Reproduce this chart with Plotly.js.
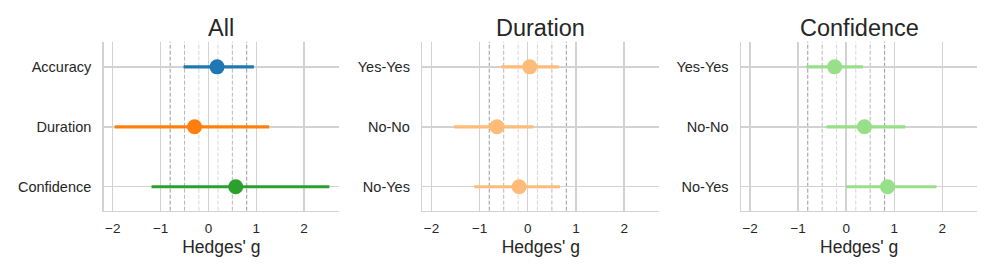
<!DOCTYPE html>
<html>
<head>
<meta charset="utf-8">
<script src="https://cdn.plot.ly/plotly-3.0.1.min.js"></script>
<style>html,body{margin:0;padding:0;background:#fff;}#chart{width:996px;height:277px;}</style>
</head>
<body>
<div id="chart"></div>
<script>
// ---- data ----
const panelTitles = ["All", "Duration", "Confidence"];
const allLabels = ["Accuracy", "Duration", "Confidence"];
const allG = [0.18, -0.29, 0.57];
const allLow = [-0.52, -1.96, -1.19];
const allHigh = [0.95, 1.27, 2.53];

const durLabels = ["Yes-Yes", "No-No", "No-Yes"];
const durG = [0.04, -0.64, -0.18];
const durLow = [-0.55, -1.53, -1.11];
const durHigh = [0.64, 0.12, 0.67];

const confLabels = ["Yes-Yes", "No-No", "No-Yes"];
const confG = [-0.24, 0.38, 0.86];
const confLow = [-0.83, -0.41, 0.00];
const confHigh = [0.35, 1.23, 1.88];

const thresholds = [-0.8, -0.5, -0.2, 0.2, 0.5, 0.8];
const xTicks = [-2, -1, 0, 1, 2];

// ---- styling ----
const allColors = ["#1f77b4", "#ff7f0e", "#2ca02c"];
const durColor = "#ffbb78";
const confColor = "#98df8a";
const threshColors = {"0.8": "#999999", "0.5": "#b8b8b8", "0.2": "#d6d6d6"};
const textColor = "#262626";
const gridColor = "#d2d2d2";
const FONT = "Liberation Sans, Arial, sans-serif";

const W = 996, H = 277;
const xDomPx = [[103.7, 339], [422.3, 659.3], [741, 977.3]];
const yTop = 41.7, yBot = 210.7;
const yDom = [1 - yBot / H, 1 - yTop / H];

const traces = [];
const layout = {
  width: W, height: H,
  margin: {l: 0, r: 0, t: 0, b: 0},
  paper_bgcolor: "#ffffff", plot_bgcolor: "#ffffff",
  showlegend: false,
  font: {family: FONT, color: textColor, size: 13},
  shapes: [], annotations: []
};

const panels = [
  {labels: allLabels, g: allG, lo: allLow, hi: allHigh, colors: allColors},
  {labels: durLabels, g: durG, lo: durLow, hi: durHigh, colors: durLabels.map(() => durColor)},
  {labels: confLabels, g: confG, lo: confLow, hi: confHigh, colors: confLabels.map(() => confColor)}
];

panels.forEach((p, i) => {
  const sfx = i === 0 ? "" : String(i + 1);
  const xa = "x" + sfx, ya = "y" + sfx;
  // CI lines
  p.labels.forEach((lab, j) => {
    traces.push({
      type: "scatter", mode: "lines", xaxis: xa, yaxis: ya,
      x: [p.lo[j], p.hi[j]], y: [lab, lab],
      line: {color: p.colors[j], width: 3.2}, hoverinfo: "skip"
    });
  });
  // points
  traces.push({
    type: "scatter", mode: "markers", xaxis: xa, yaxis: ya,
    x: p.g, y: p.labels,
    marker: {color: p.colors, size: 15, line: {width: 0}}
  });

  const xd = [xDomPx[i][0] / W, xDomPx[i][1] / W];
  layout["xaxis" + sfx] = {
    domain: xd, anchor: ya, range: [-2.19, 2.73],
    tickvals: xTicks, ticktext: xTicks.map(v => v < 0 ? "\u2212" + Math.abs(v) : String(v)),
    showgrid: true, gridcolor: gridColor, gridwidth: 1.4,
    zeroline: false, showline: true, linecolor: gridColor, linewidth: 1.5,
    ticks: "", ticklabelstandoff: 5,
    tickfont: {size: 13.5, color: textColor, family: FONT},
    title: {text: "Hedges' g", font: {size: 17.5, color: textColor, family: FONT}, standoff: 5},
    fixedrange: true
  };
  layout["yaxis" + sfx] = {
    domain: yDom, anchor: xa, type: "category",
    categoryorder: "array", categoryarray: p.labels,
    range: [2.4, -0.42],
    showgrid: true, gridcolor: gridColor, gridwidth: 1.4,
    zeroline: false, showline: true, linecolor: gridColor, linewidth: 1.5,
    ticks: "", ticklabelstandoff: 8,
    tickfont: {size: 14.5, color: textColor, family: FONT},
    fixedrange: true
  };
  thresholds.forEach(t => {
    layout.shapes.push({
      type: "line", xref: xa, yref: ya + " domain",
      x0: t, x1: t, y0: 0, y1: 1, layer: "below",
      line: {color: threshColors[Math.abs(t).toFixed(1)], width: 1, dash: "4px,2px"}
    });
  });
  layout.annotations.push({
    text: panelTitles[i], xref: "paper", yref: "paper",
    x: (xd[0] + xd[1]) / 2, y: 1 - 28 / H, xanchor: "center", yanchor: "middle",
    showarrow: false, font: {size: 23.5, color: textColor, family: FONT}
  });
});

Plotly.newPlot("chart", traces, layout, {displayModeBar: false, staticPlot: true});
</script>
</body>
</html>
